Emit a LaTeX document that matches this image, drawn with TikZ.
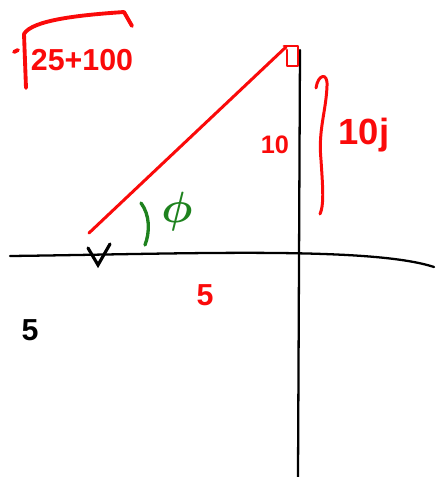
\documentclass[tikz,border=0pt]{standalone}
\usepackage{fontspec}
\setsansfont{Liberation Sans}
\usepackage{xcolor}
\definecolor{PenRed}{RGB}{250,10,10}
\definecolor{PenGreen}{RGB}{30,130,30}

\begin{document}
\begin{tikzpicture}[
x=0.02cm,y=-0.02cm,
axis/.style={line width=1.3pt,black,line cap=round},
ink/.style={line width=1.7pt,draw=PenRed,line cap=round,line join=round},
greenink/.style={line width=1.9pt,draw=PenGreen,line cap=round},
lbl/.style={font=\sffamily\bfseries\LARGE,text=PenRed,inner sep=1pt}
]
\useasboundingbox (0,0) rectangle (436,477);
% axes
\coordinate (xl) at (10,256);
\coordinate (xr) at (434,267);
\coordinate (yt) at (300,50);
\coordinate (yb) at (298,477);
\draw[axis] (xl) .. controls (180,254) and (370,246) .. (xr);
\draw[axis] (yt) -- (yb);
% point and vector
\coordinate (pt) at (286,47);
\coordinate (vv) at (89,233);
\draw[ink] (284,46) -- (298,46) -- (298,66) -- (287,66) -- (287,50);
\draw[ink] (vv) -- (pt);
\draw[axis,line width=1.8pt] (88,248) -- (98,265) -- (110,244);
% brace
\draw[ink] (316,88) .. controls (318,74) and (328,72) .. (327,86)
  .. controls (326,112) and (318,130) .. (321,160)
  .. controls (323,190) and (324,205) .. (320,214);
% angle
\draw[greenink] (141,203) .. controls (150,215) and (150,232) .. (145,245);
\node[font=\Huge\boldmath,text=PenGreen] (phi) at (177,212) {$\phi$};
% labels
\node[lbl] (mag) at (82,60) {25+100};
\draw[ink,line width=2.2pt] (14,52) -- (18,50) (26,88) -- (24,34)
  .. controls (32,20) and (80,15) .. (124,12) -- (132,26);
\node[lbl,font=\sffamily\bfseries\Large] (re) at (275,145) {10};
\node[lbl,font=\sffamily\bfseries\huge] (im) at (364,135) {10j};
\node[lbl] (rx) at (205,295) {5};
\node[lbl,text=black] (lx) at (30,330) {5};
\end{tikzpicture}
\end{document}
